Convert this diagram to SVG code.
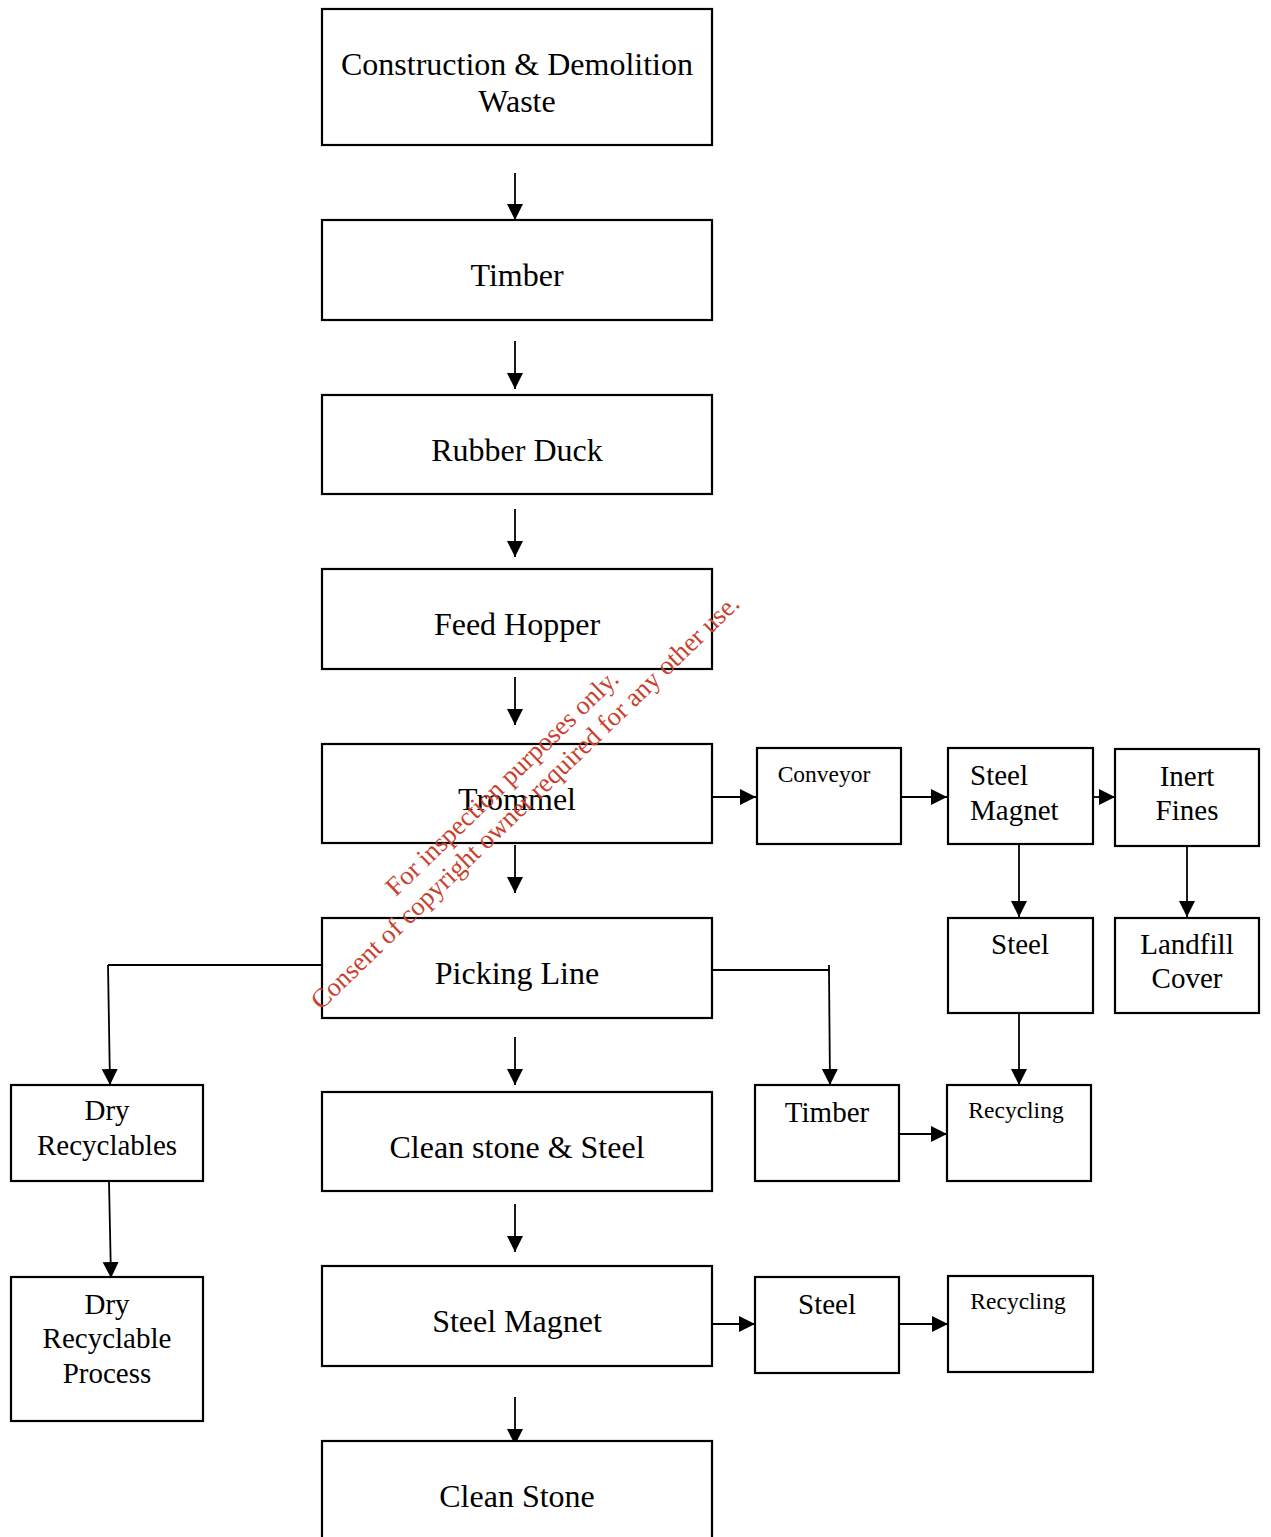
<svg xmlns="http://www.w3.org/2000/svg" width="1271" height="1537" viewBox="0 0 1271 1537">
<defs>
<marker id="ah" markerUnits="userSpaceOnUse" markerWidth="17" markerHeight="17" refX="16" refY="8" orient="auto">
<path d="M0,0 L16,8 L0,16 z" fill="#000"/>
</marker>
<style>
.box{fill:#fff;stroke:#000;stroke-width:2.2}
.t{font-family:"Liberation Serif","Times New Roman",serif;fill:#000;text-anchor:middle}
.big{font-size:32px}
.mid{font-size:29px}
.sm{font-size:23.5px}
.c{fill:none;stroke:#000;stroke-width:1.8}
.a{fill:none;stroke:#000;stroke-width:1.8;marker-end:url(#ah)}
.wm{font-family:"Liberation Serif","Times New Roman",serif;font-size:26.5px;fill:#c8412e;text-anchor:middle}
</style>
</defs>
<rect width="1271" height="1537" fill="#fff"/>

<g id="connectors">
<line class="a" x1="515" y1="173" x2="515" y2="220"/>
<line class="a" x1="515" y1="341" x2="515" y2="389"/>
<line class="a" x1="515" y1="509" x2="515" y2="557"/>
<line class="a" x1="515" y1="677" x2="515" y2="725"/>
<line class="a" x1="515" y1="845" x2="515" y2="893"/>
<line class="a" x1="515" y1="1037" x2="515" y2="1085"/>
<line class="a" x1="515" y1="1204" x2="515" y2="1252"/>
<line class="a" x1="515" y1="1397" x2="515" y2="1445"/>
<line class="a" x1="707" y1="797" x2="756" y2="797"/>
<line class="a" x1="901" y1="797" x2="947" y2="797"/>
<line class="a" x1="1093" y1="797" x2="1115" y2="797"/>
<line class="a" x1="1019" y1="845" x2="1019" y2="917"/>
<line class="a" x1="1187" y1="847" x2="1187" y2="917"/>
<line class="a" x1="1019" y1="1014" x2="1019" y2="1085"/>
<polyline class="c" points="707,970 829,970"/>
<line class="c" x1="829" y1="965" x2="829" y2="970"/>
<line class="a" x1="829" y1="970" x2="830" y2="1085"/>
<polyline class="c" points="327,965 108,965"/>
<line class="a" x1="108" y1="965" x2="110" y2="1085"/>
<line class="a" x1="109" y1="1182" x2="111" y2="1278"/>
<line class="a" x1="899" y1="1134" x2="947" y2="1134"/>
<line class="a" x1="708" y1="1324" x2="755" y2="1324"/>
<line class="a" x1="899" y1="1324" x2="948" y2="1324"/>
</g>

<g id="n-cdw"><rect class="box" x="322" y="9" width="390" height="136"/><text class="t big" x="517" y="75">Construction &amp; Demolition</text><text class="t big" x="517" y="112">Waste</text></g>
<g id="n-timber"><rect class="box" x="322" y="220" width="390" height="100"/><text class="t big" x="517" y="286">Timber</text></g>
<g id="n-rubberduck"><rect class="box" x="322" y="395" width="390" height="99"/><text class="t big" x="517" y="461">Rubber Duck</text></g>
<g id="n-feedhopper"><rect class="box" x="322" y="569" width="390" height="100"/><text class="t big" x="517" y="635">Feed Hopper</text></g>
<g id="n-trommel"><rect class="box" x="322" y="744" width="390" height="99"/><text class="t big" x="517" y="810">Trommel</text></g>
<g id="n-picking"><rect class="box" x="322" y="918" width="390" height="100"/><text class="t big" x="517" y="984">Picking Line</text></g>
<g id="n-cleanstonesteel"><rect class="box" x="322" y="1092" width="390" height="99"/><text class="t big" x="517" y="1158">Clean stone &amp; Steel</text></g>
<g id="n-steelmagnet"><rect class="box" x="322" y="1266" width="390" height="100"/><text class="t big" x="517" y="1332">Steel Magnet</text></g>
<g id="n-cleanstone"><rect class="box" x="322" y="1441" width="390" height="110"/><text class="t big" x="517" y="1507">Clean Stone</text></g>

<g id="n-conveyor"><rect class="box" x="757" y="748" width="144" height="96"/><text class="t sm" x="824" y="782">Conveyor</text></g>
<g id="n-steelmagnet2"><rect class="box" x="948" y="748" width="145" height="96"/><text class="t mid" x="970" y="785" style="text-anchor:start">Steel</text><text class="t mid" x="970" y="820" style="text-anchor:start">Magnet</text></g>
<g id="n-inertfines"><rect class="box" x="1115" y="749" width="144" height="97"/><text class="t mid" x="1187" y="786">Inert</text><text class="t mid" x="1187" y="820">Fines</text></g>
<g id="n-steel1"><rect class="box" x="948" y="918" width="145" height="95"/><text class="t mid" x="1020" y="954">Steel</text></g>
<g id="n-landfill"><rect class="box" x="1115" y="918" width="144" height="95"/><text class="t mid" x="1187" y="954">Landfill</text><text class="t mid" x="1187" y="988">Cover</text></g>
<g id="n-timber2"><rect class="box" x="755" y="1085" width="144" height="96"/><text class="t mid" x="827" y="1122">Timber</text></g>
<g id="n-recycling1"><rect class="box" x="947" y="1085" width="144" height="96"/><text class="t sm" x="1016" y="1118">Recycling</text></g>
<g id="n-steel2"><rect class="box" x="755" y="1277" width="144" height="96"/><text class="t mid" x="827" y="1314">Steel</text></g>
<g id="n-recycling2"><rect class="box" x="948" y="1276" width="145" height="96"/><text class="t sm" x="1018" y="1309">Recycling</text></g>
<g id="n-dryrec"><rect class="box" x="11" y="1085" width="192" height="96"/><text class="t mid" x="107" y="1120">Dry</text><text class="t mid" x="107" y="1155">Recyclables</text></g>
<g id="n-dryproc"><rect class="box" x="11" y="1277" width="192" height="144"/><text class="t mid" x="107" y="1314">Dry</text><text class="t mid" x="107" y="1348">Recyclable</text><text class="t mid" x="107" y="1383">Process</text></g>

<g id="watermark">
<text class="wm" transform="translate(508,789) rotate(-44)">For inspection purposes only.</text>
<text class="wm" transform="translate(531,808) rotate(-44)">Consent of copyright owner required for any other use.</text>
</g>
</svg>
